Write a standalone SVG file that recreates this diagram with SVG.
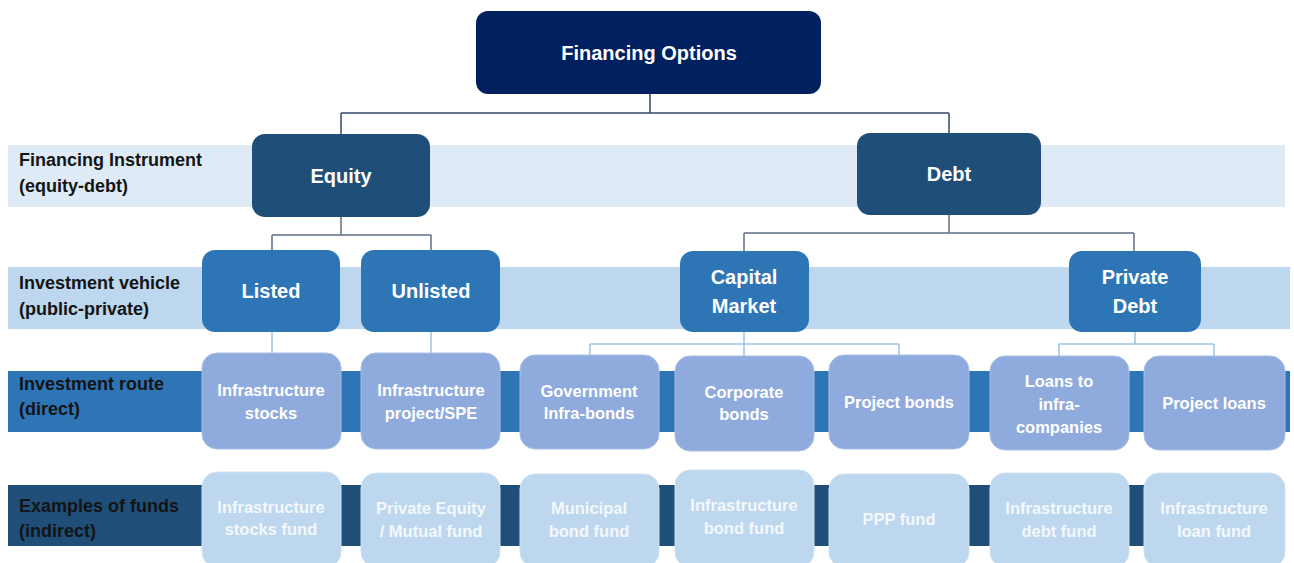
<svg xmlns="http://www.w3.org/2000/svg" width="1294" height="563" viewBox="0 0 1294 563">
<style>
text{font-family:"Liberation Sans",Arial,sans-serif;font-weight:bold;text-anchor:middle;dominant-baseline:central}
.lbl{text-anchor:start;font-size:18px;fill:#141414}
.t20{font-size:20px;fill:#fff}
.t16{font-size:16.5px;fill:#fff}
.t16b{font-size:16.5px;fill:#F4F8FC}
.n0{fill:#002060}
.n1{fill:#1F4E79}
.n2{fill:#2E75B6}
.n3{fill:#8FAADC;stroke:#A9BFE6;stroke-width:1}
.n4{fill:#BDD7EE;stroke:#CFE2F3;stroke-width:1}
.c1{fill:none;stroke:#34496A;stroke-width:1.5}
.c2{fill:none;stroke:#5F6F85;stroke-width:1.5}
.c3{fill:none;stroke:#9DC3E6;stroke-width:1.5}
</style>
<rect width="1294" height="563" fill="#fff"/>
<g id="bands">
<rect x="8" y="145" width="1277" height="62" fill="#DEEBF7"/>
<rect x="8" y="267" width="1282" height="62" fill="#BDD7EE"/>
<rect x="8" y="371" width="1282" height="61" fill="#2E75B6"/>
<rect x="8" y="485" width="1277" height="61" fill="#1F4E79"/>
</g>
<g id="row-labels">
<text class="lbl" x="19" y="160">Financing  Instrument</text>
<text class="lbl" x="19" y="186">(equity-debt)</text>
<text class="lbl" x="19" y="283">Investment vehicle</text>
<text class="lbl" x="19" y="309">(public-private)</text>
<text class="lbl" x="19" y="384">Investment route</text>
<text class="lbl" x="19" y="409">(direct)</text>
<text class="lbl" x="19" y="506">Examples of funds</text>
<text class="lbl" x="19" y="531">(indirect)</text>
</g>
<g id="connectors">
<path class="c1" d="M650 94V113M341 113H949M341 113V134M949 113V133"/>
<path class="c2" d="M341 217V235M272 235H431M272 235V250M431 235V250"/>
<path class="c2" d="M949 215V233M744 233H1134M744 233V251M1134 233V251"/>
<path class="c3" d="M272 332V353M431 332V353"/>
<path class="c3" d="M744 332V344M590 344H899M590 344V355M744 344V356M899 344V355"/>
<path class="c3" d="M1135 332V344M1059 344H1214M1059 344V356M1214 344V356"/>
</g>
<g id="financing-options"><rect class="n0" x="476" y="11" width="345" height="83" rx="12"/><text class="t20" x="649" y="53">Financing Options</text></g>
<g id="equity"><rect class="n1" x="252" y="134" width="178" height="83" rx="13"/><text class="t20" x="341" y="176">Equity</text></g>
<g id="debt"><rect class="n1" x="857" y="133" width="184" height="82" rx="13"/><text class="t20" x="949" y="174">Debt</text></g>
<g id="listed"><rect class="n2" x="202" y="250" width="138" height="82" rx="13"/><text class="t20" x="271" y="291">Listed</text></g>
<g id="unlisted"><rect class="n2" x="361" y="250" width="139" height="82" rx="13"/><text class="t20" x="431" y="291">Unlisted</text></g>
<g id="capital-market"><rect class="n2" x="680" y="251" width="129" height="81" rx="13"/><text class="t20" x="744" y="277">Capital</text><text class="t20" x="744" y="306">Market</text></g>
<g id="private-debt"><rect class="n2" x="1069" y="251" width="132" height="81" rx="13"/><text class="t20" x="1135" y="277">Private</text><text class="t20" x="1135" y="306">Debt</text></g>
<g id="infra-stocks"><rect class="n3" x="202" y="353" width="139" height="96" rx="15"/><text class="t16" x="271" y="390">Infrastructure</text><text class="t16" x="271" y="413">stocks</text></g>
<g id="infra-project"><rect class="n3" x="361" y="353" width="139" height="96" rx="15"/><text class="t16" x="431" y="390">Infrastructure</text><text class="t16" x="431" y="413">project/SPE</text></g>
<g id="gov-bonds"><rect class="n3" x="520" y="355" width="139" height="94" rx="15"/><text class="t16" x="589" y="391">Government</text><text class="t16" x="589" y="413">Infra-bonds</text></g>
<g id="corp-bonds"><rect class="n3" x="675" y="356" width="139" height="95" rx="15"/><text class="t16" x="744" y="392">Corporate</text><text class="t16" x="744" y="414">bonds</text></g>
<g id="project-bonds"><rect class="n3" x="829" y="355" width="140" height="94" rx="15"/><text class="t16" x="899" y="402">Project bonds</text></g>
<g id="loans-infra"><rect class="n3" x="990" y="356" width="139" height="94" rx="15"/><text class="t16" x="1059" y="381">Loans to</text><text class="t16" x="1059" y="404">infra-</text><text class="t16" x="1059" y="427">companies</text></g>
<g id="project-loans"><rect class="n3" x="1144" y="356" width="141" height="94" rx="15"/><text class="t16" x="1214" y="403">Project loans</text></g>
<g id="stocks-fund"><rect class="n4" x="202" y="472" width="139" height="95" rx="15"/><text class="t16b" x="271" y="507">Infrastructure</text><text class="t16b" x="271" y="529">stocks  fund</text></g>
<g id="pe-fund"><rect class="n4" x="361" y="473" width="139" height="94" rx="15"/><text class="t16b" x="431" y="508">Private Equity</text><text class="t16b" x="431" y="531">/ Mutual fund</text></g>
<g id="municipal-fund"><rect class="n4" x="520" y="474" width="139" height="93" rx="15"/><text class="t16b" x="589" y="508">Municipal</text><text class="t16b" x="589" y="531">bond fund</text></g>
<g id="bond-fund"><rect class="n4" x="675" y="470" width="139" height="97" rx="15"/><text class="t16b" x="744" y="505">Infrastructure</text><text class="t16b" x="744" y="528">bond fund</text></g>
<g id="ppp-fund"><rect class="n4" x="829" y="474" width="140" height="93" rx="15"/><text class="t16b" x="899" y="519">PPP fund</text></g>
<g id="debt-fund"><rect class="n4" x="990" y="473" width="139" height="94" rx="15"/><text class="t16b" x="1059" y="508">Infrastructure</text><text class="t16b" x="1059" y="531">debt fund</text></g>
<g id="loan-fund"><rect class="n4" x="1144" y="473" width="141" height="94" rx="15"/><text class="t16b" x="1214" y="508">Infrastructure</text><text class="t16b" x="1214" y="531">loan fund</text></g>
</svg>
